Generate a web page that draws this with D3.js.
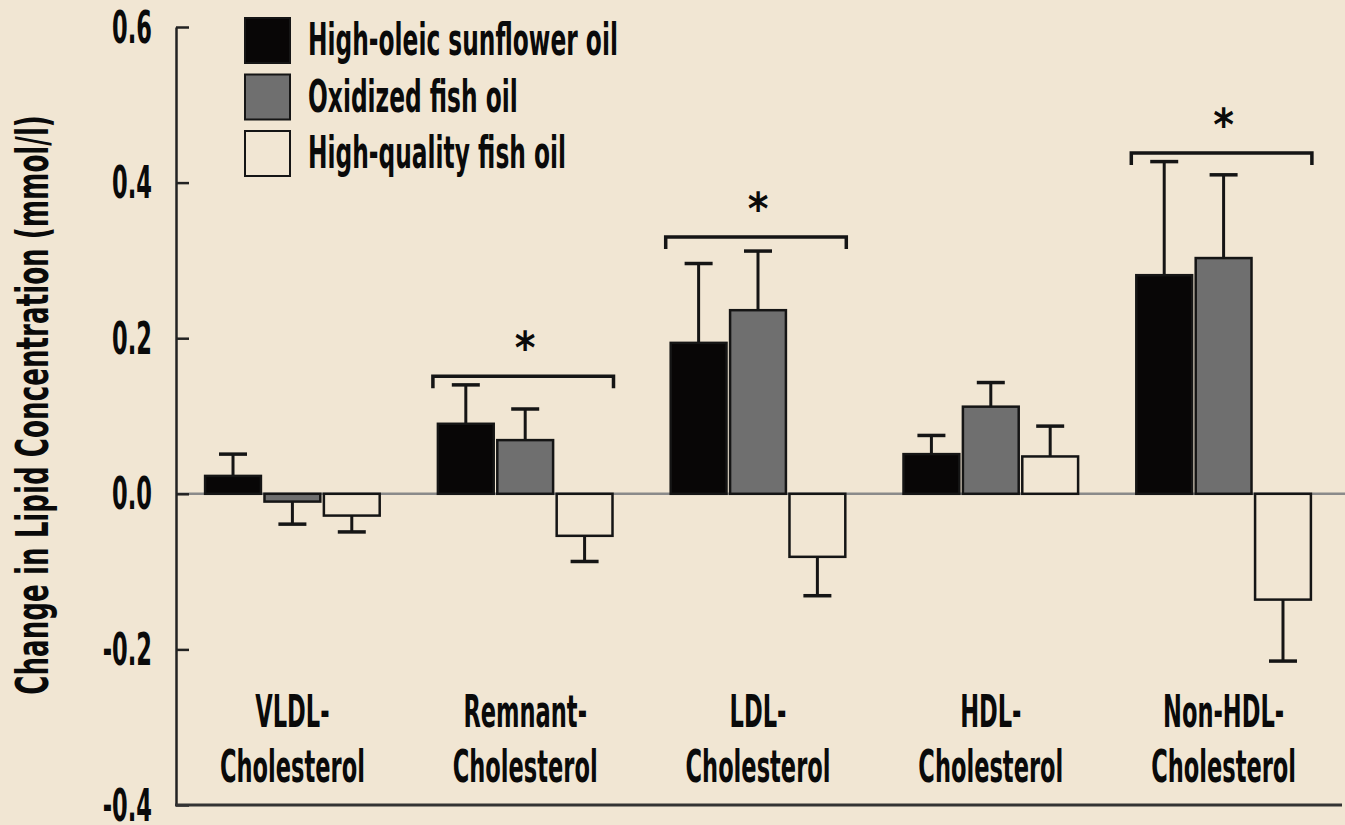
<!DOCTYPE html>
<html>
<head>
<meta charset="utf-8">
<script src="https://cdnjs.cloudflare.com/ajax/libs/d3/7.8.5/d3.min.js"></script>
<style>
body { margin: 0; background: #f1e6d3; }
svg { display: block; }
text { font-family: "Liberation Sans Narrow", "DejaVu Sans Condensed", "Roboto", sans-serif; font-weight: bold; fill: #0a0a0a; }
</style>
</head>
<body>
<div id="body"></div>
<script>
// data
var categories = [["VLDL-", "Cholesterol"], ["Remnant-", "Cholesterol"], ["LDL-", "Cholesterol"], ["HDL-", "Cholesterol"], ["Non-HDL-", "Cholesterol"]];
var seriesNames = ["High-oleic sunflower oil", "Oxidized fish oil", "High-quality fish oil"];
var sunflower = [0.023, 0.090, 0.194, 0.051, 0.281];
var sunflowerErr = [0.028, 0.050, 0.102, 0.024, 0.146];
var oxidized = [-0.010, 0.069, 0.236, 0.112, 0.303];
var oxidizedErr = [0.029, 0.040, 0.076, 0.031, 0.107];
var highQuality = [-0.028, -0.054, -0.081, 0.048, -0.136];
var highQualityErr = [0.021, 0.033, 0.050, 0.039, 0.079];
var yTicks = [0.6, 0.4, 0.2, 0.0, -0.2, -0.4];
var brackets = [{cat: 1, y: 0.151}, {cat: 2, y: 0.330}, {cat: 4, y: 0.438}];

var fills = ["#080606", "#6f6f6f", "#f1e6d3"];
var width = 1345, height = 825;
var fs = 45;

var svg = d3.select("#body").append("svg").attr("width", width).attr("height", height);
svg.append("rect").attr("width", width).attr("height", height).attr("fill", "#f1e6d3");

// condensed look: squeeze text horizontally to match widths in the figure
function squeeze(str, target){
	var probe = svg.append("text").attr("font-size", fs).text(str);
	var w = probe.node().getComputedTextLength();
	probe.remove();
	return target / w;
}
var k = squeeze("Cholesterol", 145);
var kLegend = squeeze("High-oleic sunflower oil", 310);
var kTitle = squeeze("Change in Lipid Concentration (mmol/l)", 580);

function label(sel, x, y, str, anchor, rot, kk){
	return sel.append("text")
		.attr("transform", "translate(" + x + "," + y + ")" + (rot ? " rotate(" + rot + ")" : "") + " scale(" + (kk || k) + ",1)")
		.attr("font-size", fs).attr("text-anchor", anchor).text(str);
}

var y = d3.scaleLinear().domain([-0.4, 0.6]).range([805, 27]);
var x = d3.scaleBand().domain(d3.range(categories.length)).range([176, 1340]).paddingInner(0.25).paddingOuter(0.125);
var xs = d3.scaleBand().domain(d3.range(3)).range([0, x.bandwidth()]).paddingInner(0.06);

var rows = [sunflower, oxidized, highQuality];
var errs = [sunflowerErr, oxidizedErr, highQualityErr];
var bars = [];
rows.forEach(function(r, s){
	r.forEach(function(v, i){ bars.push({cat: i, s: s, v: v, e: errs[s][i]}); });
});

// zero line
svg.append("line").attr("x1", 176).attr("x2", 1345).attr("y1", y(0)).attr("y2", y(0))
	.attr("stroke", "#8a8a8a").attr("stroke-width", 2.5);

// error bars (behind bars)
var eb = svg.append("g").selectAll("g").data(bars).enter().append("g");
eb.append("line")
	.attr("x1", function(d){ return x(d.cat) + xs(d.s) + xs.bandwidth() / 2; })
	.attr("x2", function(d){ return x(d.cat) + xs(d.s) + xs.bandwidth() / 2; })
	.attr("y1", function(d){ return y(d.v); })
	.attr("y2", function(d){ return y(d.v + (d.v < 0 ? -d.e : d.e)); })
	.attr("stroke", "#151515").attr("stroke-width", 3);
eb.append("line")
	.attr("x1", function(d){ return x(d.cat) + xs(d.s) + xs.bandwidth() / 2 - 14; })
	.attr("x2", function(d){ return x(d.cat) + xs(d.s) + xs.bandwidth() / 2 + 14; })
	.attr("y1", function(d){ return y(d.v + (d.v < 0 ? -d.e : d.e)); })
	.attr("y2", function(d){ return y(d.v + (d.v < 0 ? -d.e : d.e)); })
	.attr("stroke", "#151515").attr("stroke-width", 3.5);

// bars
svg.append("g").selectAll("rect").data(bars).enter().append("rect")
	.attr("x", function(d){ return x(d.cat) + xs(d.s); })
	.attr("width", xs.bandwidth())
	.attr("y", function(d){ return Math.min(y(d.v), y(0)); })
	.attr("height", function(d){ return Math.abs(y(d.v) - y(0)); })
	.attr("fill", function(d){ return fills[d.s]; })
	.attr("stroke", "#151515").attr("stroke-width", 2.5);

// significance brackets
var br = svg.append("g").selectAll("g").data(brackets).enter().append("g");
br.append("path")
	.attr("d", function(d){
		var x0 = x(d.cat) - 5, x1 = x(d.cat) + x.bandwidth() + 1, yy = y(d.y);
		return "M" + x0 + "," + (yy + 12) + "V" + yy + "H" + x1 + "V" + (yy + 12);
	})
	.attr("fill", "none").attr("stroke", "#151515").attr("stroke-width", 3.5);
br.append("text")
	.attr("x", function(d){ return x(d.cat) + x.bandwidth() / 2; })
	.attr("y", function(d){ return y(d.y) - 13; })
	.attr("text-anchor", "middle").attr("font-size", 44).text("*");

// y axis
var yAxis = svg.append("g").attr("transform", "translate(176,0)")
	.call(d3.axisLeft(y).tickValues(yTicks)
		.tickFormat(function(d){ return d3.format(".1f")(d).replace("\u2212", "-"); })
		.tickSizeInner(-13).tickSizeOuter(0).tickPadding(24));
yAxis.select(".domain").attr("stroke", "#222").attr("stroke-width", 2.5);
yAxis.selectAll(".tick line").attr("stroke", "#222").attr("stroke-width", 2.5);
yAxis.selectAll(".tick text").each(function(){
	d3.select(this).attr("x", null).attr("dy", null)
		.attr("transform", "translate(-24,15) scale(" + k + ",1)")
		.attr("font-size", fs).attr("fill", "#0a0a0a");
});
yAxis.attr("font-family", null).attr("font-size", null);

// bottom axis line
svg.append("line").attr("x1", 175).attr("x2", 1342).attr("y1", 805).attr("y2", 805)
	.attr("stroke", "#333").attr("stroke-width", 3);

// category labels
categories.forEach(function(c, i){
	var cx = x(i) + x.bandwidth() / 2;
	label(svg, cx, 727, c[0], "middle");
	label(svg, cx, 782, c[1], "middle");
});

// y title
label(svg, 48, 405, "Change in Lipid Concentration (mmol/l)", "middle", -90, kTitle);

// legend
seriesNames.forEach(function(n, i){
	var ly = 18 + i * 56.5;
	svg.append("rect").attr("x", 245).attr("y", ly).attr("width", 45).attr("height", 45)
		.attr("fill", fills[i]).attr("stroke", "#151515").attr("stroke-width", 2);
	label(svg, 308, ly + 37, n, "start", 0, kLegend);
});
</script>
</body>
</html>
